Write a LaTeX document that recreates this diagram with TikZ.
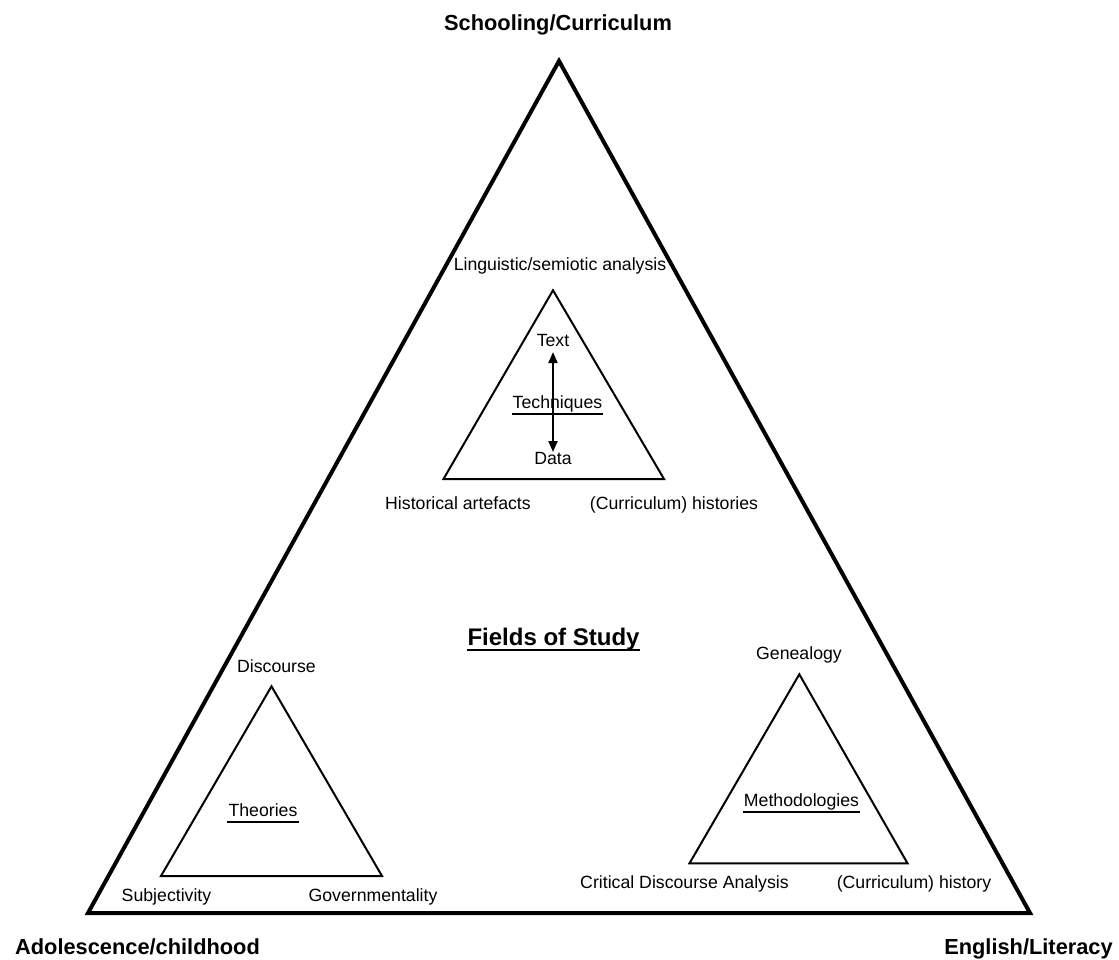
\documentclass[tikz,border=0pt]{standalone}
\usepackage{fontspec}
\setmainfont{Liberation Sans}
\usetikzlibrary{arrows.meta}
\tikzset{
  lbl/.style={font=\fontsize{17.7}{20}\selectfont, inner sep=0pt, anchor=base},
  head/.style={font=\bfseries\fontsize{21.8}{24}\selectfont, inner sep=0pt, anchor=base},
  fhead/.style={font=\bfseries\fontsize{24}{27}\selectfont, inner sep=0pt, anchor=base},
  bigtri/.style={line width=4pt, line join=miter},
  smalltri/.style={line width=2pt, line join=miter},
  ul/.style={line width=1.8pt},
  ularrow/.style={line width=2pt, {Triangle[length=11pt,width=9pt]}-{Triangle[length=11pt,width=9pt]}}
}
\begin{document}
\begin{tikzpicture}[x=1pt,y=-1pt]
\useasboundingbox (0,0) rectangle (1119,960);
\fill[white] (0,0) rectangle (1119,960);

% outer triangle
\coordinate (A) at (559,61);
\coordinate (B) at (88,913);
\coordinate (C) at (1030,913);
\draw[bigtri] (A) -- (B) -- (C) -- cycle;

\node[head] (school) at (558,30.8) {Schooling/Curriculum};
\node[head] (adol) at (137.5,954.8) {Adolescence/childhood};
\node[head] (engl) at (1028.5,954.8) {English/Literacy};

% top small triangle
\coordinate (TA) at (553,290.3);
\coordinate (TB) at (443.5,479);
\coordinate (TC) at (664,479);
\draw[smalltri] (TA) -- (TB) -- (TC) -- cycle;
\node[lbl] (ling) at (560,270.4) {Linguistic/semiotic analysis};
\node[lbl] (txt) at (553,346.4) {Text};
\node[lbl] (tech) at (557.5,408.4) {Techniques};
\node[lbl] (dat) at (553,464.4) {Data};
\node[lbl] (hist) at (458,509.4) {Historical artefacts};
\node[lbl] (curh) at (674,509.4) {(Curriculum) histories};
\draw[ul] ([yshift=-5.3pt,xshift=-1pt]tech.base west) -- ([yshift=-5.3pt,xshift=1pt]tech.base east);
\draw[ularrow, shorten <=5.3pt] (txt.south) -- (dat.north);

% title
\node[fhead] (fields) at (553.5,645.6) {Fields of Study};
\draw[line width=2pt] ([yshift=-4.4pt]fields.base west) -- ([yshift=-4.4pt]fields.base east);

% bottom-left triangle
\coordinate (LA) at (271.5,686.3);
\coordinate (LB) at (161,876);
\coordinate (LC) at (382,876);
\draw[smalltri] (LA) -- (LB) -- (LC) -- cycle;
\node[lbl] (disc) at (276.5,672.1) {Discourse};
\node[lbl] (theo) at (263,816.4) {Theories};
\draw[ul] ([yshift=-5.6pt,xshift=-1pt]theo.base west) -- ([yshift=-5.6pt,xshift=1pt]theo.base east);
\node[lbl] (subj) at (166.5,901.4) {Subjectivity};
\node[lbl] (gov) at (373,901.4) {Governmentality};

% bottom-right triangle
\coordinate (RA) at (799.3,674.3);
\coordinate (RB) at (689.5,863.3);
\coordinate (RC) at (907.5,863.3);
\draw[smalltri] (RA) -- (RB) -- (RC) -- cycle;
\node[lbl] (gen) at (799,659.4) {Genealogy};
\node[lbl] (meth) at (801.5,806.4) {Methodologies};
\draw[ul] ([yshift=-5.3pt,xshift=-1pt]meth.base west) -- ([yshift=-5.3pt,xshift=1pt]meth.base east);
\node[lbl] (cda) at (684.5,888.4) {Critical Discourse Analysis};
\node[lbl] (curr) at (914,888.4) {(Curriculum) history};
\end{tikzpicture}
\end{document}
